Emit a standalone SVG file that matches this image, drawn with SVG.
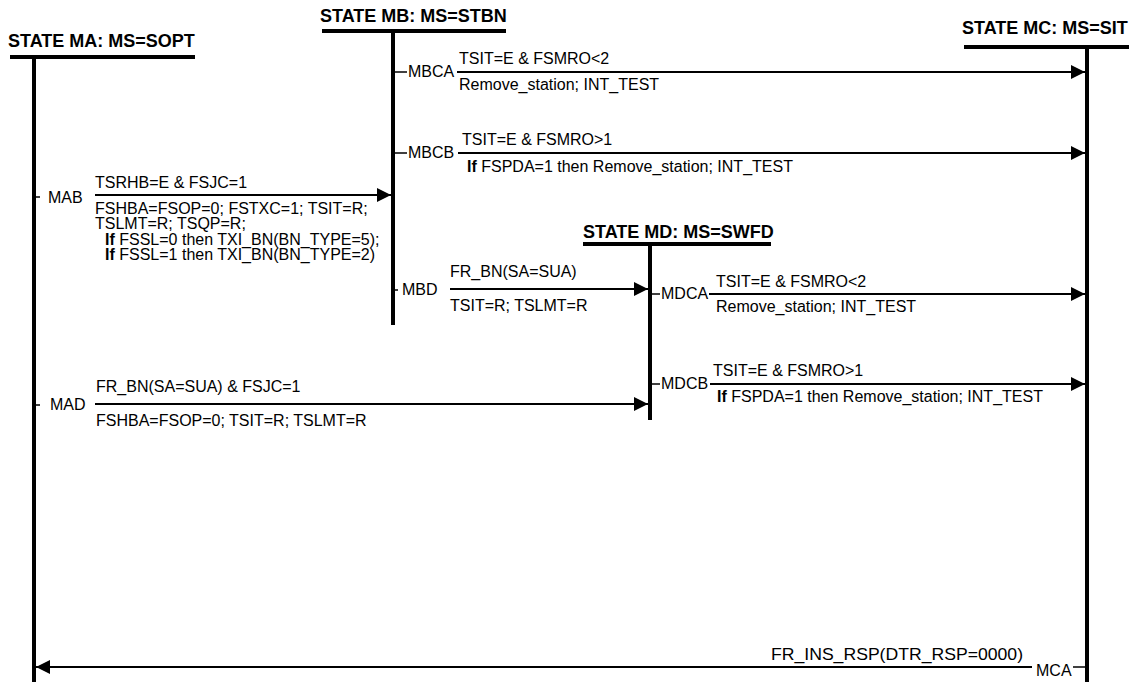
<svg xmlns="http://www.w3.org/2000/svg" width="1131" height="688" viewBox="0 0 1131 688">
<style>
text{font-family:"Liberation Sans",Arial,sans-serif;font-size:16px;fill:#000}
.t{font-weight:bold;font-size:18px}
.b{font-weight:bold}
.bar{stroke:#000;stroke-width:4;fill:none}
.life{stroke:#000;stroke-width:4;fill:none}
.c{stroke:#000;stroke-width:2;fill:none}
.tk{stroke:#000;stroke-width:1.5;fill:none}
</style>
<defs>
<marker id="ah" markerUnits="userSpaceOnUse" markerWidth="14" markerHeight="14" refX="14" refY="7" orient="auto">
<path d="M0,0 L14,7 L0,14 z" fill="#000"/>
</marker>
</defs>
<rect width="1131" height="688" fill="#fff"/>
<g id="stateMA">
<text class="t" x="8" y="47">STATE MA: MS=SOPT</text>
<line class="bar" x1="10" y1="57" x2="195" y2="57"/>
<line class="life" x1="34" y1="57" x2="34" y2="682"/>
</g>
<g id="stateMB">
<text class="t" x="320" y="22">STATE MB: MS=STBN</text>
<line class="bar" x1="322" y1="31" x2="506" y2="31"/>
<line class="life" x1="393" y1="31" x2="393" y2="325"/>
</g>
<g id="stateMC">
<text class="t" x="962" y="34">STATE MC: MS=SIT</text>
<line class="bar" x1="964" y1="47" x2="1129" y2="47"/>
<line class="life" x1="1087" y1="47" x2="1087" y2="682"/>
</g>
<g id="stateMD">
<text class="t" x="583" y="238">STATE MD: MS=SWFD</text>
<line class="bar" x1="583" y1="244" x2="771" y2="244"/>
<line class="life" x1="650" y1="244" x2="650" y2="420"/>
</g>
<g id="connectors">
<g id="MBCA">
<line class="tk" x1="393" y1="72" x2="407" y2="72"/>
<text x="408" y="77">MBCA</text>
<line class="c" x1="457" y1="72" x2="1085" y2="72" marker-end="url(#ah)"/>
<text x="459" y="64">TSIT=E &amp; FSMRO&lt;2</text>
<text x="459" y="90">Remove_station; INT_TEST</text>
</g>
<g id="MBCB">
<line class="tk" x1="393" y1="153" x2="407" y2="153"/>
<text x="408" y="158">MBCB</text>
<line class="c" x1="458" y1="153" x2="1085" y2="153" marker-end="url(#ah)"/>
<text x="462" y="145">TSIT=E &amp; FSMRO&gt;1</text>
<text x="467" y="172"><tspan class="b">If</tspan> FSPDA=1 then Remove_station; INT_TEST</text>
</g>
<g id="MAB">
<line class="tk" x1="34" y1="197" x2="40" y2="197"/>
<text x="48" y="203">MAB</text>
<line class="c" x1="95" y1="195" x2="391" y2="195" marker-end="url(#ah)"/>
<text x="95" y="188">TSRHB=E &amp; FSJC=1</text>
<text x="95" y="214">FSHBA=FSOP=0; FSTXC=1; TSIT=R;</text>
<text x="95" y="229">TSLMT=R; TSQP=R;</text>
<text x="105" y="245"><tspan class="b">If</tspan> FSSL=0 then TXI_BN(BN_TYPE=5);</text>
<text x="105" y="260"><tspan class="b">If</tspan> FSSL=1 then TXI_BN(BN_TYPE=2)</text>
</g>
<g id="MBD">
<line class="tk" x1="393" y1="290" x2="398" y2="290"/>
<text x="402" y="295">MBD</text>
<line class="c" x1="450" y1="289" x2="648" y2="289" marker-end="url(#ah)"/>
<text x="450" y="277">FR_BN(SA=SUA)</text>
<text x="450" y="311">TSIT=R; TSLMT=R</text>
</g>
<g id="MDCA">
<line class="tk" x1="650" y1="294" x2="660" y2="294"/>
<text x="661" y="299">MDCA</text>
<line class="c" x1="709" y1="294" x2="1085" y2="294" marker-end="url(#ah)"/>
<text x="716" y="287">TSIT=E &amp; FSMRO&lt;2</text>
<text x="716" y="312">Remove_station; INT_TEST</text>
</g>
<g id="MDCB">
<line class="tk" x1="650" y1="384" x2="660" y2="384"/>
<text x="661" y="389">MDCB</text>
<line class="c" x1="710" y1="384" x2="1085" y2="384" marker-end="url(#ah)"/>
<text x="713" y="376">TSIT=E &amp; FSMRO&gt;1</text>
<text x="717" y="402"><tspan class="b">If</tspan> FSPDA=1 then Remove_station; INT_TEST</text>
</g>
<g id="MAD">
<line class="tk" x1="34" y1="405" x2="40" y2="405"/>
<text x="50" y="410">MAD</text>
<line class="c" x1="95" y1="404" x2="648" y2="404" marker-end="url(#ah)"/>
<text x="96" y="392">FR_BN(SA=SUA) &amp; FSJC=1</text>
<text x="96" y="426">FSHBA=FSOP=0; TSIT=R; TSLMT=R</text>
</g>
<g id="MCA">
<line class="tk" x1="1073" y1="667" x2="1087" y2="667"/>
<text x="1036" y="676">MCA</text>
<line class="c" x1="1032" y1="667" x2="36" y2="667" marker-end="url(#ah)"/>
<text x="771" y="660" style="font-size:17px" textLength="252" lengthAdjust="spacingAndGlyphs">FR_INS_RSP(DTR_RSP=0000)</text>
</g>
</g>
</svg>
